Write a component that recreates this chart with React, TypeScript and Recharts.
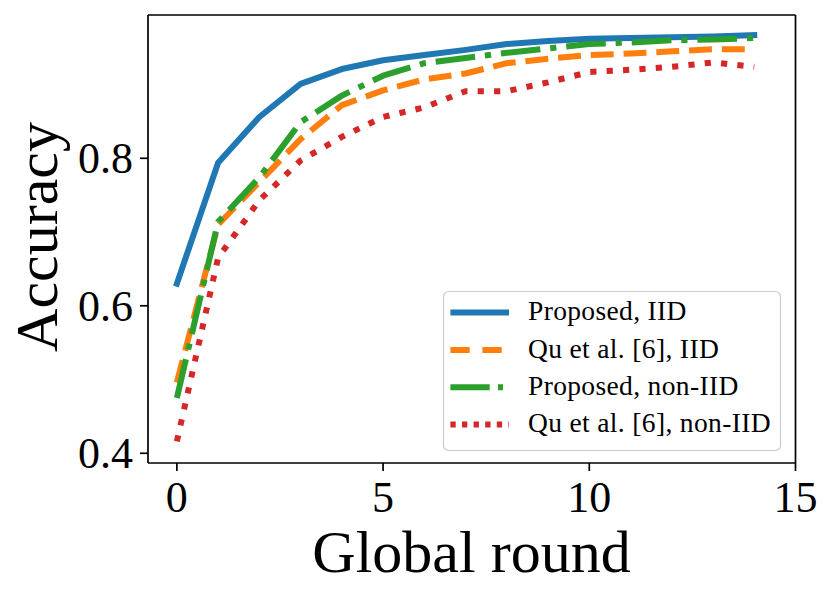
import React from 'react';
import { LineChart, Line, XAxis, YAxis, ReferenceLine, Legend, Label } from 'recharts';

const rounds = [0, 1, 2, 3, 4, 5, 6, 7, 8, 9, 10, 11, 12, 13, 14];
const proposedIID = [0.630, 0.794, 0.856, 0.901, 0.921, 0.933, 0.940, 0.947, 0.955, 0.959, 0.962, 0.963, 0.964, 0.965, 0.967];
const quIID = [0.496, 0.710, 0.768, 0.826, 0.872, 0.892, 0.907, 0.915, 0.929, 0.935, 0.940, 0.942, 0.945, 0.948, 0.948];
const proposedNonIID = [0.475, 0.714, 0.774, 0.849, 0.885, 0.912, 0.929, 0.936, 0.943, 0.949, 0.955, 0.957, 0.960, 0.961, 0.963];
const quNonIID = [0.416, 0.665, 0.743, 0.797, 0.829, 0.856, 0.869, 0.891, 0.891, 0.903, 0.917, 0.920, 0.924, 0.930, 0.924];

const seriesNames = ['Proposed, IID', 'Qu et al. [6], IID', 'Proposed, non-IID', 'Qu et al. [6], non-IID'];
const seriesColors = ['#1f77b4', '#ff7f0e', '#2ca02c', '#d62728'];
const seriesDash = ['', '22.9 9.9', '39.7 9.9 6.2 9.9', '6.2 10.2'];
const legendDash = ['', '19.3 12.7', '39.3 8.3 5 8.3', '5.3 6.3'];

const xTicks = [0, 5, 10, 15];
const yTicks = [0.4, 0.6, 0.8];
const xDomain = [-0.7, 15];
const yDomain = [0.3868, 0.9943];

const data = rounds.map((r, i) => ({
  round: r,
  s0: proposedIID[i],
  s1: quIID[i],
  s2: proposedNonIID[i],
  s3: quNonIID[i],
}));

const FONT = '"Liberation Serif", "DejaVu Serif", serif';

const XTick = (props: any) => {
  const { x, y, payload } = props;
  return (
    <text x={x} y={y + 41} textAnchor="middle" fontFamily={FONT} fontSize={44} fill="#000">
      {payload.value}
    </text>
  );
};

const YTick = (props: any) => {
  const { x, y, payload } = props;
  return (
    <text x={x - 7} y={y + 15} textAnchor="end" fontFamily={FONT} fontSize={44} fill="#000">
      {Number(payload.value).toFixed(1)}
    </text>
  );
};

const LegendBox = () => (
  <svg width={339} height={161} style={{ display: 'block', overflow: 'visible' }}>
    <rect x={0.5} y={0.5} width={337} height={159} rx={5} ry={5} fill="#fff" fillOpacity={0.8} stroke="#cccccc" strokeWidth={1.2} />
    {seriesNames.map((name, i) => {
      const cy = 21.6 + i * 37.3;
      return (
        <g key={name}>
          <line
            x1={7.4}
            x2={66}
            y1={cy}
            y2={cy}
            stroke={seriesColors[i]}
            strokeWidth={6}
            strokeDasharray={legendDash[i] || undefined}
          />
          <text x={85} y={cy + 7.6} fontFamily={FONT} fontSize={27.5} letterSpacing={0.35} fill="#000">
            {name}
          </text>
        </g>
      );
    })}
  </svg>
);

export default function App() {
  return (
    <div style={{ position: 'absolute', left: 0, top: 0, width: 831, height: 598, background: '#fff' }}>
      <LineChart width={831} height={598} data={data} margin={{ top: 15, right: 35.5, bottom: 0, left: 0 }}>
        <XAxis
          dataKey="round"
          type="number"
          domain={xDomain}
          ticks={xTicks}
          allowDataOverflow
          height={135}
          tickSize={8}
          tickMargin={0}
          axisLine={{ stroke: '#000', strokeWidth: 1.7 }}
          tickLine={{ stroke: '#000', strokeWidth: 1.7 }}
          tick={<XTick />}
        >
          <Label
            content={() => (
              <text x={471.5} y={572} textAnchor="middle" fontFamily={FONT} fontSize={60} fill="#000">
                Global round
              </text>
            )}
          />
        </XAxis>
        <YAxis
          type="number"
          domain={yDomain}
          ticks={yTicks}
          allowDataOverflow
          width={148}
          tickSize={8}
          tickMargin={0}
          axisLine={{ stroke: '#000', strokeWidth: 1.7 }}
          tickLine={{ stroke: '#000', strokeWidth: 1.7 }}
          tick={<YTick />}
        >
          <Label
            content={() => (
              <text
                x={57}
                y={237}
                textAnchor="middle"
                fontFamily={FONT}
                fontSize={60}
                fill="#000"
                transform="rotate(-90 57 237)"
              >
                Accuracy
              </text>
            )}
          />
        </YAxis>
        <ReferenceLine y={yDomain[1]} stroke="#000" strokeWidth={1.7} ifOverflow="visible" />
        <ReferenceLine x={xDomain[1]} stroke="#000" strokeWidth={1.7} ifOverflow="visible" />
        {['s0', 's1', 's2', 's3'].map((key, i) => (
          <Line
            key={key}
            type="linear"
            dataKey={key}
            name={seriesNames[i]}
            stroke={seriesColors[i]}
            strokeWidth={6}
            strokeDasharray={seriesDash[i] || undefined}
            strokeLinecap={i === 0 ? 'square' : 'butt'}
            strokeLinejoin="round"
            dot={false}
            activeDot={false}
            isAnimationActive={false}
          />
        ))}
        <Legend
          layout="horizontal"
          verticalAlign="middle"
          align="center"
          wrapperStyle={{ left: 443, top: 291, width: 339, height: 161 }}
          content={() => <LegendBox />}
        />
      </LineChart>
    </div>
  );
}
